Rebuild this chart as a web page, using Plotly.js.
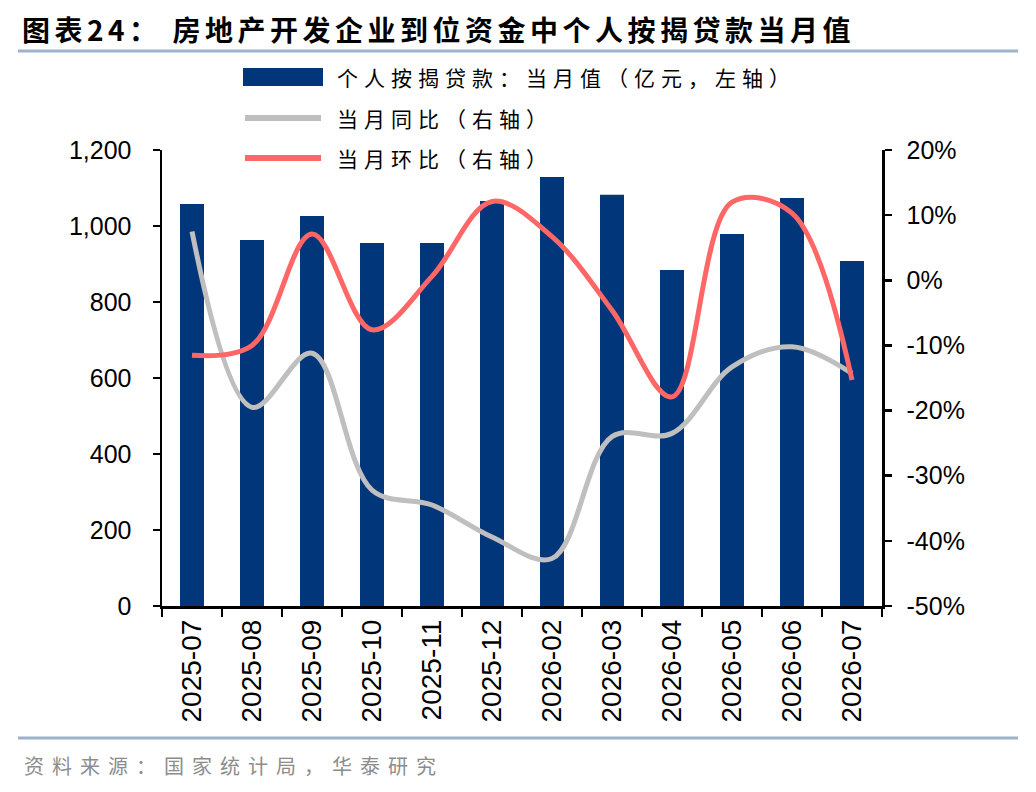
<!DOCTYPE html>
<html>
<head>
<meta charset="utf-8">
<script src="https://cdn.plot.ly/plotly-3.0.1.min.js"></script>
<style>
  body { margin: 0; background: #fff; }
  #chart { width: 1036px; height: 792px; }
  .gtitle { letter-spacing: 4.5px; }
  .annotation[data-index="0"] text,
  .annotation[data-index="1"] text,
  .annotation[data-index="2"] text { letter-spacing: 6px; }
  .annotation[data-index="3"] text { letter-spacing: 8px; }
</style>
</head>
<body>
<div id="chart"></div>
<script>
// months on the x axis
var months = ['2025-07', '2025-08', '2025-09', '2025-10', '2025-11', '2025-12',
              '2026-02', '2026-03', '2026-04', '2026-05', '2026-06', '2026-07'];
// 个人按揭贷款当月值, 亿元
var mortgage = [1058, 963, 1026, 955, 955, 1066, 1129, 1082, 884, 979, 1074, 908];
// 当月同比
var yoy = [0.075, -0.195, -0.112, -0.322, -0.345, -0.394, -0.427, -0.240, -0.235, -0.133, -0.102, -0.143];
// 当月环比
var mom = [-0.115, -0.100, 0.071, -0.076, 0.006, 0.121, 0.067, -0.046, -0.179, 0.120, 0.103, -0.153];

// right axis ticks
var pctTicks = [-0.5, -0.4, -0.3, -0.2, -0.1, 0, 0.1, 0.2];
var pctLabels = ['-50%', '-40%', '-30%', '-20%', '-10%', '0%', '10%', '20%'];

var legendNames = ['个人按揭贷款：当月值（亿元，左轴）', '当月同比（右轴）', '当月环比（右轴）'];
var source = '资料来源：国家统计局，华泰研究';

var navy = '#02367A', grey = '#BFBFBF', red = '#FF6666';
var cjk = '"Noto Sans CJK SC", sans-serif';
var num = '"Liberation Sans", Arial, sans-serif';

// plot box in pixels, used to place decoration in paper units
var L = 162, R = 882, T = 150, B = 606;
function px(x) { return (x - L) / (R - L); }
function py(y) { return (B - y) / (B - T); }
// letter-spacing is added after plotly centres the text, so push it right by half of it
function spaced(x, txt, sp) { return px(x + txt.length * sp / 2); }

var data = [
  {
    type: 'bar', x: months, y: mortgage, name: legendNames[0],
    marker: {color: navy}, width: 0.4, yaxis: 'y'
  },
  {
    type: 'scatter', mode: 'lines', x: months, y: yoy, name: legendNames[1],
    line: {color: grey, width: 5, shape: 'spline', smoothing: 1}, yaxis: 'y2'
  },
  {
    type: 'scatter', mode: 'lines', x: months, y: mom, name: legendNames[2],
    line: {color: red, width: 5, shape: 'spline', smoothing: 1}, yaxis: 'y2'
  }
];

var legendRows = [77, 118, 158];

var layout = {
  width: 1036, height: 792,
  margin: {l: L, r: 1036 - R, t: T, b: 792 - B},
  paper_bgcolor: '#fff', plot_bgcolor: '#fff',
  showlegend: false,
  title: {
    text: '<b>图表24：\u00a0房地产开发企业到位资金中个人按揭贷款当月值</b>',
    x: 22 / 1036, xanchor: 'left', xref: 'container',
    y: 1 - 31 / 792, yanchor: 'middle', yref: 'container',
    font: {family: cjk, size: 28, color: '#000'}
  },
  xaxis: {
    type: 'category',
    showline: true, linecolor: '#000', linewidth: 2.5,
    ticks: 'outside', tickson: 'boundaries', ticklen: 8, tickwidth: 2.5, tickcolor: '#000',
    tickangle: -90,
    tickfont: {family: num, size: 28, color: '#000'},
    showgrid: false, zeroline: false
  },
  yaxis: {
    range: [0, 1200], dtick: 200, tickformat: ',d',
    showline: true, linecolor: '#000', linewidth: 2.5,
    ticks: 'outside', ticklen: 7, tickwidth: 2.5, tickcolor: '#000',
    tickfont: {family: num, size: 25, color: '#000'},
    showgrid: false, zeroline: false, ticklabelstandoff: 16
  },
  yaxis2: {
    overlaying: 'y', side: 'right',
    range: [-0.5, 0.2], tickmode: 'array', tickvals: pctTicks, ticktext: pctLabels,
    showline: true, linecolor: '#000', linewidth: 2.5,
    ticks: 'outside', ticklen: 7, tickwidth: 2.5, tickcolor: '#000',
    tickfont: {family: num, size: 25, color: '#000'},
    showgrid: false, zeroline: false, ticklabelstandoff: 10
  },
  shapes: [
    // rules under the title and above the source note
    {type: 'line', xref: 'paper', yref: 'paper', x0: px(18), x1: px(1018), y0: py(51), y1: py(51),
     line: {color: '#9DB2CC', width: 3}},
    {type: 'line', xref: 'paper', yref: 'paper', x0: px(18), x1: px(1018), y0: py(738), y1: py(738),
     line: {color: '#9DB2CC', width: 3}},
    // legend keys
    {type: 'rect', xref: 'paper', yref: 'paper', x0: px(243), x1: px(323),
     y0: py(legendRows[0] + 9), y1: py(legendRows[0] - 9), fillcolor: navy, line: {width: 0}},
    {type: 'line', xref: 'paper', yref: 'paper', x0: px(245), x1: px(321),
     y0: py(legendRows[1]), y1: py(legendRows[1]), line: {color: grey, width: 6}},
    {type: 'line', xref: 'paper', yref: 'paper', x0: px(245), x1: px(321),
     y0: py(legendRows[2]), y1: py(legendRows[2]), line: {color: red, width: 6}}
  ],
  annotations: legendNames.map(function (t, i) {
    return {
      text: t, xref: 'paper', yref: 'paper', x: spaced(335, t, 6), y: py(legendRows[i]),
      xanchor: 'left', yanchor: 'middle', showarrow: false,
      font: {family: cjk, size: 21, color: '#000'}
    };
  }).concat([{
    text: source, xref: 'paper', yref: 'paper',
    x: spaced(22, source, 8), y: py(765), xanchor: 'left', yanchor: 'middle', showarrow: false,
    font: {family: cjk, size: 20, color: '#8C8C8C'}
  }])
};

Plotly.newPlot('chart', data, layout, {displayModeBar: false, staticPlot: true});
</script>
</body>
</html>
